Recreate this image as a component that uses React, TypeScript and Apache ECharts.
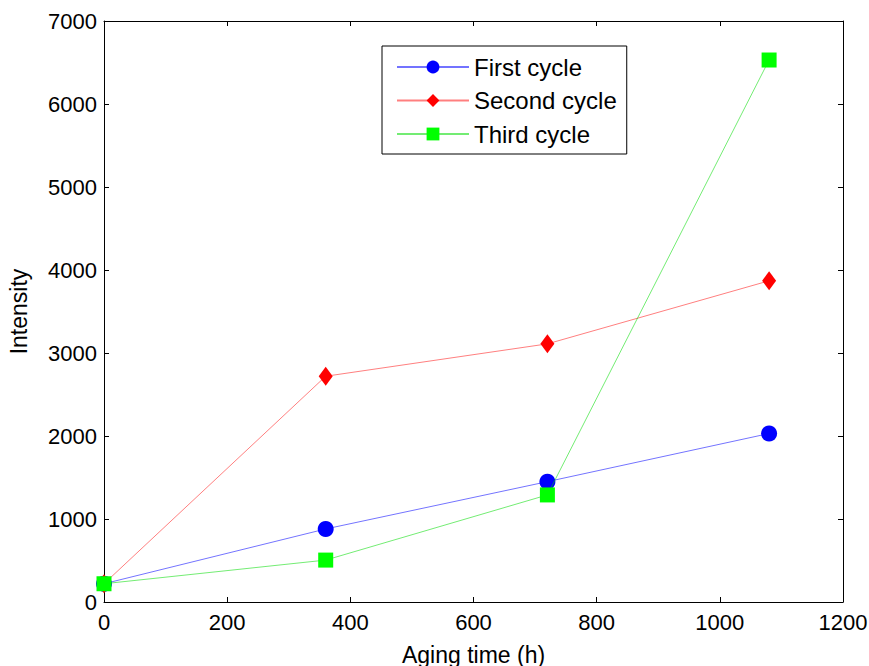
import React, { useEffect, useRef } from "react";
import * as echarts from "echarts";

const agingTime = [0, 360, 720, 1080];
const firstCycle = [220, 880, 1450, 2030];
const secondCycle = [220, 2720, 3110, 3870];
const thirdCycle = [220, 505, 1290, 6530];
const seriesNames = ["First cycle", "Second cycle", "Third cycle"];

const FONT = "Liberation Sans, Arial, Helvetica, sans-serif";

export default function App() {
  const ref = useRef<HTMLDivElement>(null);
  useEffect(() => {
    if (!ref.current) return;
    const chart = echarts.init(ref.current, null, { renderer: "svg" });
    const pair = (ys: number[]) => agingTime.map((x, i) => [x, ys[i]]);
    const baseX = {
      type: "value",
      min: 0,
      max: 1200,
      interval: 200,
      splitLine: { show: false },
      axisLine: { show: true, onZero: false, lineStyle: { color: "#000", width: 1 } },
      axisTick: { show: true, inside: true, length: 5, lineStyle: { color: "#000" } },
    };
    const baseY = {
      type: "value",
      min: 0,
      max: 7000,
      interval: 1000,
      splitLine: { show: false },
      axisLine: { show: true, onZero: false, lineStyle: { color: "#000", width: 1 } },
      axisTick: { show: true, inside: true, length: 5, lineStyle: { color: "#000" } },
    };
    chart.setOption({
      animation: false,
      backgroundColor: "#fff",
      textStyle: { fontFamily: FONT },
      grid: { left: 104, right: 26, top: 21, bottom: 64, containLabel: false, outerBoundsMode: "none" },
      legend: {
        orient: "vertical",
        left: 382,
        top: 46,
        padding: [9, 10, 8, 14],
        itemGap: 9.5,
        itemWidth: 72,
        itemHeight: 16,
        borderColor: "#000",
        borderWidth: 1,
        backgroundColor: "#fff",
        data: seriesNames,
        textStyle: { fontFamily: FONT, fontSize: 24, color: "#000", lineHeight: 22 },
      },
      xAxis: [
        {
          ...baseX,
          position: "bottom",
          name: "Aging time (h)",
          nameLocation: "middle",
          nameGap: 41,
          nameTextStyle: { fontFamily: FONT, fontSize: 23, color: "#000" },
          axisLabel: { fontFamily: FONT, fontSize: 22, color: "#000", margin: 9, formatter: (v: number) => String(v) },
        },
        { ...baseX, position: "top", axisLabel: { show: false } },
      ],
      yAxis: [
        {
          ...baseY,
          position: "left",
          name: "Intensity",
          nameLocation: "middle",
          nameGap: 74,
          nameTextStyle: { fontFamily: FONT, fontSize: 23, color: "#000" },
          axisLabel: { fontFamily: FONT, fontSize: 22, color: "#000", margin: 7, formatter: (v: number) => String(v) },
        },
        { ...baseY, position: "right", axisLabel: { show: false } },
      ],
      series: [
        {
          name: seriesNames[0],
          type: "line",
          data: pair(firstCycle),
          symbol: "circle",
          symbolSize: 16,
          itemStyle: { color: "#0000ff" },
          lineStyle: { color: "rgba(0,0,255,0.55)", width: 1 },
          z: 2,
        },
        {
          name: seriesNames[1],
          type: "line",
          data: pair(secondCycle),
          symbol: "diamond",
          symbolSize: [14, 19],
          itemStyle: { color: "#ff0000" },
          lineStyle: { color: "rgba(255,0,0,0.5)", width: 1 },
          z: 3,
        },
        {
          name: seriesNames[2],
          type: "line",
          data: pair(thirdCycle),
          symbol: "rect",
          symbolSize: 15,
          itemStyle: { color: "#00ff00" },
          lineStyle: { color: "rgba(0,220,0,0.55)", width: 1 },
          z: 4,
        },
      ],
    });
    return () => chart.dispose();
  }, []);
  return <div ref={ref} style={{ width: 869, height: 666, position: "absolute", left: 0, top: 0 }} />;
}
